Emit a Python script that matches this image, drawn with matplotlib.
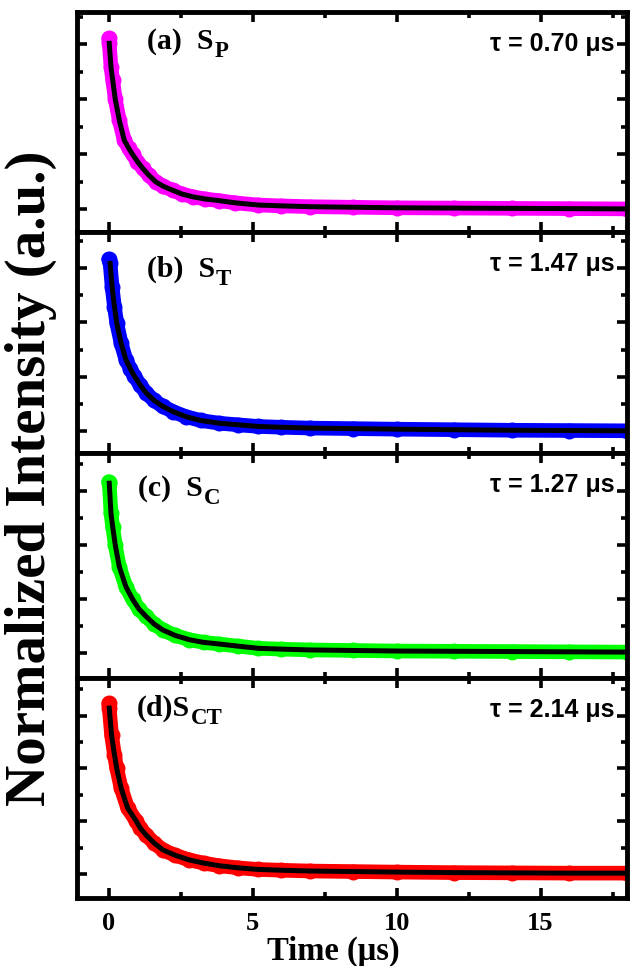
import matplotlib
matplotlib.use("Agg")
import matplotlib.pyplot as plt
from matplotlib.ticker import MultipleLocator

# Normalized decay curves (time in µs, intensity in tick units)
t_a = [0.0, 0.02, 0.08, 0.14, 0.23, 0.37, 0.54, 0.7, 0.83, 1.0, 1.18, 1.4, 1.64, 1.9, 2.22,
       2.55, 2.92, 3.35, 3.84, 4.4, 5.2, 6.0, 7.0, 8.5, 10.0, 12.0, 14.0, 16.0, 18.0]
I_a = [3.11, 3.02, 2.59, 2.35, 2.00, 1.62, 1.26, 1.11, 1.00, 0.87, 0.75, 0.62, 0.50, 0.42, 0.35,
       0.28, 0.23, 0.19, 0.16, 0.12, 0.08, 0.065, 0.05, 0.04, 0.03, 0.025, 0.02, 0.015, 0.01]

t_b = [0.0, 0.05, 0.12, 0.2, 0.28, 0.43, 0.6, 0.75, 0.89, 1.1, 1.3, 1.58, 1.88, 2.25, 2.69,
       3.2, 3.84, 4.5, 5.2, 6.0, 7.0, 8.5, 10.0, 12.0, 14.0, 16.0, 18.0]
I_b = [3.17, 3.09, 2.65, 2.29, 1.99, 1.62, 1.31, 1.15, 1.01, 0.84, 0.70, 0.56, 0.45, 0.35, 0.26,
       0.19, 0.14, 0.11, 0.08, 0.065, 0.05, 0.04, 0.03, 0.02, 0.01, 0.005, 0.0]

t_c = [0.0, 0.02, 0.08, 0.14, 0.23, 0.37, 0.6, 0.83, 1.05, 1.3, 1.58, 1.88, 2.3, 2.8, 3.3,
       3.84, 4.5, 5.2, 6.0, 7.0, 8.5, 10.0, 12.0, 14.0, 16.0, 18.0]
I_c = [3.17, 3.14, 2.58, 2.33, 1.99, 1.59, 1.22, 0.99, 0.81, 0.67, 0.53, 0.42, 0.32, 0.24, 0.19,
       0.16, 0.12, 0.08, 0.065, 0.05, 0.04, 0.03, 0.025, 0.02, 0.015, 0.01]

t_d = [0.0, 0.02, 0.1, 0.2, 0.28, 0.43, 0.66, 0.95, 1.1, 1.3, 1.58, 1.88, 2.3, 2.8, 3.3,
       3.84, 4.5, 5.2, 6.0, 7.0, 8.5, 10.0, 12.0, 14.0, 16.0, 18.0]
I_d = [3.23, 3.14, 2.63, 2.26, 2.0, 1.63, 1.25, 1.01, 0.87, 0.74, 0.59, 0.46, 0.36, 0.27, 0.21,
       0.16, 0.12, 0.09, 0.075, 0.06, 0.05, 0.04, 0.03, 0.025, 0.02, 0.02]

panel_main = ['(a)  S', '(b)  S', '(c)  S', '(d)S']
panel_sub = ['P', 'T', 'C', 'CT']
lifetimes = ['0.70', '1.47', '1.27', '2.14']
colors = ['#ff00ff', '#0000ff', '#00ff00', '#ff0000']
times = [t_a, t_b, t_c, t_d]
intens = [I_a, I_b, I_c, I_d]
ylims = [(-0.41, 3.59), (-0.41, 3.67), (-0.47, 3.70), (-0.45, 3.71)]
x_ticks = [0, 5, 10, 15]

W, H = 630, 966
fig = plt.figure(figsize=(W / 100, H / 100), dpi=100)

# panel extents in pixels: (top, bottom)
extents = [(12, 232), (232, 453), (453, 678), (678, 898)]
label_x = [147, 147, 138, 137]
label_base = [37, 45, 43, 38]
left_px, right_px = 77, 627

serif = dict(family='Liberation Serif', weight='bold')

for i in range(4):
    top, bot = extents[i]
    ax = fig.add_axes([left_px / W, 1 - bot / H, (right_px - left_px) / W, (bot - top) / H])
    t, y = times[i], intens[i]
    ax.plot(t, y, '-', color=colors[i], lw=10.5, solid_capstyle='round',
            solid_joinstyle='round', zorder=2)
    ax.plot(t, y, 'o', color=colors[i], ms=11.5, mec='none', zorder=2)
    ax.plot(t[1:], y[1:], '-', color='black', lw=3.6, solid_joinstyle='round', zorder=3)

    ax.set_xlim(-1.1, 18.0)
    ax.set_ylim(*ylims[i])
    ax.xaxis.set_major_locator(MultipleLocator(5))
    ax.xaxis.set_minor_locator(MultipleLocator(2.5))
    ax.yaxis.set_major_locator(MultipleLocator(1))
    ax.yaxis.set_minor_locator(MultipleLocator(0.5))
    ax.tick_params(which='both', direction='in', top=True, right=True,
                   labelleft=False, labelbottom=(i == 3))
    ax.tick_params(which='major', length=7.5, width=2.6)
    ax.tick_params(which='minor', length=4, width=2.6)
    for sp in ax.spines.values():
        sp.set_linewidth(3.5)

    h = bot - top
    main = ax.text((label_x[i] - left_px) / (right_px - left_px), 1 - label_base[i] / h,
                   panel_main[i], transform=ax.transAxes, ha='left', va='baseline',
                   fontsize=21.5, **serif)
    ax.annotate(panel_sub[i], xy=(1, 0), xycoords=main, xytext=(0.5, -4.5),
                textcoords='offset points', ha='left', va='bottom',
                fontsize=16.5, **serif)
    ax.text((615 - left_px) / (right_px - left_px), 1 - 32 / h,
            'τ = ' + lifetimes[i] + ' μs', transform=ax.transAxes,
            ha='right', va='center', fontsize=18,
            family='Liberation Sans', weight='bold')

    if i == 3:
        ax.set_xticks(x_ticks)
        ax.set_xticklabels([str(v) for v in x_ticks], fontsize=19, **serif)
        ax.tick_params(axis='x', pad=10)

fig.text(333 / W, 1 - 951 / H, 'Time (μs)', ha='center', va='center',
         fontsize=23.5, **serif)
fig.text(31 / W, 1 - 478 / H, 'Normalized Intensity (a.u.)', rotation=90,
         ha='center', va='center', fontsize=41, **serif)

fig.savefig('out.png', dpi=100)
